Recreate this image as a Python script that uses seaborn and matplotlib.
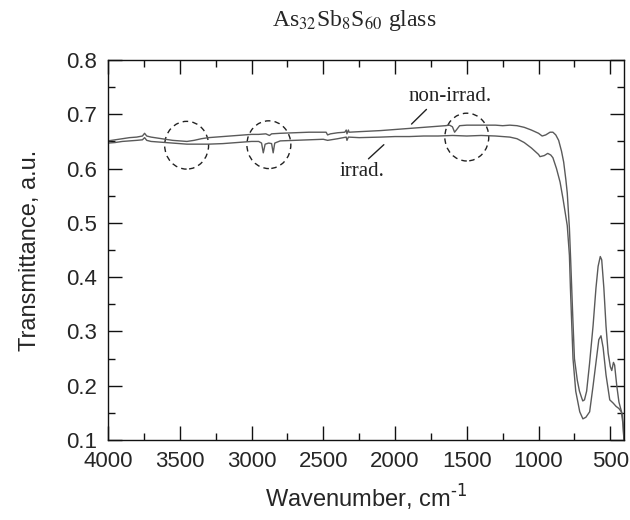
import matplotlib
matplotlib.use("Agg")
import matplotlib.pyplot as plt
import seaborn as sns
import pandas as pd
from matplotlib.patches import Ellipse
from matplotlib.ticker import MultipleLocator

# non-irradiated sample (upper curve)
wn_non = [4000, 3950, 3900, 3850, 3800, 3760, 3745, 3730, 3700, 3650, 3600, 3550, 3500,
          3450, 3400, 3350, 3300, 3200, 3100, 3000, 2950, 2900, 2875, 2860, 2800, 2700,
          2600, 2500, 2480, 2470, 2450, 2400, 2350, 2340, 2335, 2325, 2320, 2250, 2100,
          2000, 1900, 1800, 1700, 1650, 1620, 1600, 1585, 1570, 1550, 1500, 1400, 1300,
          1250, 1200, 1150, 1100, 1050, 1000, 975, 950, 920, 900, 880, 860, 840, 825,
          810, 800, 785, 776, 762, 750, 730, 715, 700, 692, 680, 665, 645, 620, 600, 585,
          570, 560, 545, 530, 515, 500, 490, 478, 470, 455, 440, 425, 415, 410, 405]
tr_non = [0.651, 0.653, 0.655, 0.657, 0.658, 0.660, 0.665, 0.660, 0.658, 0.656, 0.654, 0.652, 0.651,
          0.650, 0.652, 0.655, 0.657, 0.659, 0.661, 0.663, 0.663, 0.664, 0.661, 0.664, 0.665, 0.666,
          0.667, 0.667, 0.667, 0.662, 0.664, 0.666, 0.667, 0.671, 0.664, 0.671, 0.667, 0.668, 0.670,
          0.672, 0.674, 0.676, 0.678, 0.679, 0.680, 0.677, 0.667, 0.672, 0.679, 0.680, 0.680, 0.680,
          0.679, 0.680, 0.679, 0.676, 0.671, 0.665, 0.660, 0.662, 0.667, 0.667, 0.662, 0.652, 0.632, 0.612,
          0.580, 0.555, 0.490, 0.430, 0.330, 0.250, 0.210, 0.190, 0.178, 0.172, 0.174, 0.190, 0.240, 0.311, 0.380, 0.420,
          0.438, 0.432, 0.380, 0.310, 0.260, 0.235, 0.228, 0.243, 0.238, 0.200, 0.170, 0.155, 0.145, 0.125, 0.100]

# irradiated sample (lower curve)
wn_irr = [4000, 3950, 3900, 3850, 3800, 3760, 3745, 3730, 3700, 3600, 3500, 3450, 3400,
          3300, 3200, 3100, 3000, 2950, 2930, 2918, 2905, 2880, 2860, 2849, 2838, 2800,
          2700, 2600, 2500, 2470, 2400, 2340, 2335, 2325, 2250, 2100, 2000, 1900, 1800,
          1700, 1600, 1500, 1400, 1300, 1200, 1150, 1100, 1050, 1000, 990, 960, 936, 915,
          900, 875, 850, 830, 815, 800, 785, 778, 760, 741, 713, 691, 670, 644, 620, 597, 580,
          565, 550, 530, 504, 480, 460, 440, 423, 412, 405]
tr_irr = [0.647, 0.648, 0.650, 0.651, 0.652, 0.653, 0.657, 0.652, 0.650, 0.648, 0.646, 0.645, 0.645,
          0.645, 0.646, 0.648, 0.650, 0.650, 0.647, 0.629, 0.645, 0.647, 0.646, 0.629, 0.647, 0.651,
          0.652, 0.653, 0.654, 0.652, 0.655, 0.658, 0.652, 0.658, 0.657, 0.658, 0.659, 0.659, 0.660,
          0.660, 0.661, 0.660, 0.661, 0.660, 0.658, 0.655, 0.648, 0.638, 0.626, 0.622, 0.624, 0.628, 0.625,
          0.620, 0.600, 0.575, 0.545, 0.520, 0.495, 0.440, 0.380, 0.250, 0.190, 0.152, 0.139, 0.142, 0.152, 0.200, 0.249, 0.285,
          0.292, 0.270, 0.220, 0.174, 0.168, 0.162, 0.158, 0.152, 0.130, 0.100]

# dashed circles: centre wavenumber, centre transmittance
circ_wn = [3452, 2879, 1500]
circ_tr = [0.643, 0.644, 0.658]

sns.set_style("ticks")
plt.rcParams['font.family'] = ['Liberation Sans', 'DejaVu Sans']
plt.rcParams['xtick.direction'] = 'in'
plt.rcParams['ytick.direction'] = 'in'

fig = plt.figure(figsize=(6.3, 5.2), dpi=100)
ax = fig.add_axes([0.1714, 0.1538, 0.819, 0.7308])

df_non = pd.DataFrame({'wn': wn_non, 'tr': tr_non})
df_irr = pd.DataFrame({'wn': wn_irr, 'tr': tr_irr})
sns.lineplot(data=df_non, x='wn', y='tr', ax=ax, color='#5a5a5a', lw=1.0, sort=False, estimator=None)
sns.lineplot(data=df_irr, x='wn', y='tr', ax=ax, color='#5a5a5a', lw=1.0, sort=False, estimator=None)

for cx, cy in zip(circ_wn, circ_tr):
    ax.add_patch(Ellipse((cx, cy), 306, 0.088, fill=False, ls=(0, (4, 3)), lw=1.0, ec='#222222'))

serif = ['Liberation Serif', 'DejaVu Serif']
ax.text(1618, 0.732, 'non-irrad.', family=serif, fontsize=15, ha='center', va='center', color='#222222')
ax.plot([1781, 1885], [0.709, 0.682], color='#222222', lw=1.0)
ax.text(2231, 0.594, 'irrad.', family=serif, fontsize=15, ha='center', va='center', color='#222222')
ax.plot([2185, 2078], [0.618, 0.644], color='#222222', lw=1.0)

ax.set_xlim(4000, 405)
ax.set_ylim(0.1, 0.8)
ax.xaxis.set_major_locator(MultipleLocator(500))
ax.xaxis.set_minor_locator(MultipleLocator(250))
ax.yaxis.set_major_locator(MultipleLocator(0.1))
ax.yaxis.set_minor_locator(MultipleLocator(0.05))
ax.tick_params(which='both', top=True, right=True, labelsize=16, width=1.0, color='#111111', pad=8)
ax.tick_params(which='major', length=10)
ax.tick_params(which='minor', length=5)
for s in ax.spines.values():
    s.set_linewidth(1.0)
    s.set_color('#111111')

ax.set_xlabel('Wavenumber, cm$^{\\text{-}1}$', fontsize=17, labelpad=8)
ax.set_ylabel('Transmittance, a.u.', fontsize=17, labelpad=18)
fig.text(0.563, 0.960, 'As$_{32}$Sb$_{8}$S$_{60}$ glass', family=serif, fontsize=17,
         ha='center', va='center', math_fontfamily='stix')

fig.savefig('out.png', dpi=100)
